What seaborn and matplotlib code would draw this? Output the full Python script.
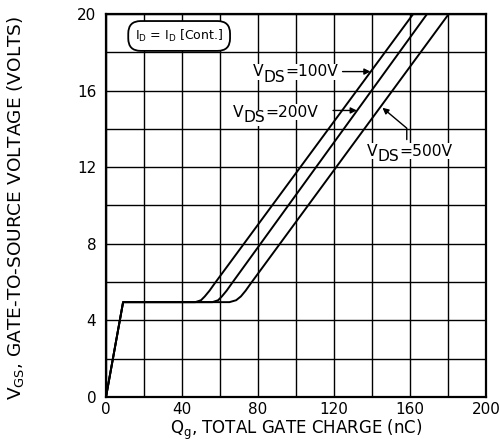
import numpy as np
import pandas as pd
import matplotlib
matplotlib.use("Agg")
import matplotlib.pyplot as plt
import seaborn as sns

# ---- data ----
q_100 = [0, 9, 47, 50, 52, 54.5, 57, 161.7]
v_100 = [0, 4.95, 4.95, 5.05, 5.25, 5.55, 5.9, 20]
q_200 = [0, 9, 56, 59, 61, 63.5, 66, 169]
v_200 = [0, 4.95, 4.95, 5.05, 5.25, 5.55, 5.9, 20]
q_500 = [0, 9, 65, 68.5, 71, 73.5, 76, 180.4]
v_500 = [0, 4.95, 4.95, 5.05, 5.25, 5.55, 5.9, 20]
series_names = ["100V", "200V", "500V"]

x_ticks = [0, 40, 80, 120, 160, 200]
x_tick_labels = ["0", "40", "80", "120", "160", "200"]
y_ticks = [0, 4, 8, 12, 16, 20]
y_tick_labels = ["0", "4", "8", "12", "16", "20"]

df = pd.concat([
    pd.DataFrame({"Q": q_100, "V": v_100, "VDS": series_names[0]}),
    pd.DataFrame({"Q": q_200, "V": v_200, "VDS": series_names[1]}),
    pd.DataFrame({"Q": q_500, "V": v_500, "VDS": series_names[2]}),
])

sns.set_style("white")
plt.rcParams["font.family"] = ["DejaVu Sans"]
plt.rcParams["text.color"] = "black"
plt.rcParams["axes.labelcolor"] = "black"
plt.rcParams["xtick.color"] = "black"
plt.rcParams["ytick.color"] = "black"

fig = plt.figure(figsize=(5, 4.44), dpi=100)
ax = fig.add_axes([0.212, 0.106, 0.76, 0.8626])

sns.lineplot(data=df, x="Q", y="V", units="VDS", estimator=None, sort=False,
             color="black", lw=1.4, ax=ax, legend=False, zorder=3)

ax.set_xlim(0, 200)
ax.set_ylim(0, 20)
ax.set_xticks(x_ticks)
ax.set_xticklabels(x_tick_labels)
ax.set_yticks(y_ticks)
ax.set_yticklabels(y_tick_labels)
ax.set_xticks(np.arange(20, 200, 40), minor=True)
ax.set_yticks(np.arange(2, 20, 4), minor=True)
ax.grid(True, which="both", color="black", lw=1.0)
ax.set_axisbelow(True)
ax.tick_params(axis="both", which="both", length=0, labelsize=11, colors="black")
ax.tick_params(axis="x", pad=4)
ax.tick_params(axis="y", pad=7)
for s in ax.spines.values():
    s.set_color("black")
    s.set_linewidth(1.6)
    s.set_visible(True)

ax.set_xlabel(r"$\mathregular{Q_g}$, TOTAL GATE CHARGE (nC)", fontsize=12, labelpad=0)
ax.set_ylabel(r"$\mathregular{V_{GS}}$, GATE-TO-SOURCE VOLTAGE (VOLTS)", fontsize=13.3)
ax.yaxis.set_label_coords(-0.21, 0.493)

# box label
ax.text(38.5, 18.85, r"$\mathregular{I_D}$ = $\mathregular{I_D}$ [Cont.]", fontsize=9,
        ha="center", va="center", zorder=5,
        bbox=dict(boxstyle="round,pad=0.55,rounding_size=1.0", fc="white", ec="black", lw=1.3))

arrow = dict(arrowstyle="-|>", color="black", lw=1.0, shrinkA=0, shrinkB=0, mutation_scale=9)


def vds_label(x, y, value, fs=11.2):
    kw = dict(fontsize=fs, zorder=4, color="black", bbox=dict(fc="white", ec="none", pad=0.5))
    t1 = ax.text(x, y, "V", ha="left", va="baseline", **kw)
    t2 = ax.annotate("DS", xy=(1, 0), xycoords=t1, xytext=(0, -4.2),
                     textcoords="offset points", ha="left", va="bottom", **kw)
    ax.annotate("=" + value, xy=(1, 0), xycoords=t2, xytext=(0, 4.2),
                textcoords="offset points", ha="left", va="bottom", **kw)


vds_label(77.5, 16.75, series_names[0])
ax.annotate("", xy=(139.2, 16.99), xytext=(124.5, 16.99), arrowprops=arrow, zorder=4)

vds_label(66.8, 14.64, series_names[1])
ax.annotate("", xy=(132.0, 14.96), xytext=(119.5, 14.96), arrowprops=arrow, zorder=4)

vds_label(137.2, 12.6, series_names[2])
arrow2 = dict(arrow, connectionstyle="angle,angleA=90,angleB=-40,rad=0")
ax.annotate("", xy=(145.5, 15.1), xytext=(158.3, 13.44), arrowprops=arrow2, zorder=4)

fig.savefig("out.png", dpi=100)
